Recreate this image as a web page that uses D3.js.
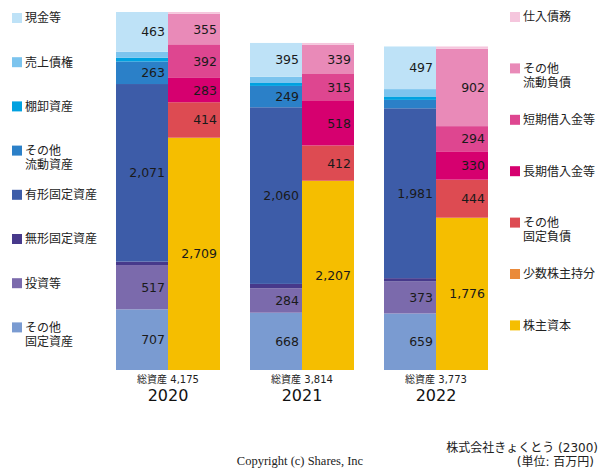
<!DOCTYPE html>
<html><head><meta charset="utf-8">
<script src="https://cdn.jsdelivr.net/npm/d3@7"></script>
<style>
body{margin:0;background:#fff;}
text{font-family:"DejaVu Sans","Noto Sans CJK JP",sans-serif;}
</style></head>
<body><svg id="c" width="600" height="470"></svg>
<script>
const years = ["2020","2021","2022"];
const totals = [4175, 3814, 3773];
// Assets (bottom to top)
const assetKeys = ["その他固定資産","投資等","無形固定資産","有形固定資産","その他流動資産","棚卸資産","売上債権","現金等"];
const otherFixedAssets = [707, 668, 659];
const investments = [517, 284, 373];
const intangibles = [40, 52, 39];
const tangibles = [2071, 2060, 1981];
const otherCurrentAssets = [263, 249, 98];
const inventories = [45, 34, 40];
const receivables = [69, 72, 86];
const cash = [463, 395, 497];
// Liabilities & equity (bottom to top)
const liabKeys = ["株主資本","少数株主持分","その他固定負債","長期借入金等","短期借入金等","その他流動負債","仕入債務"];
const equity = [2709, 2207, 1776];
const minority = [0, 0, 0];
const otherFixedLiab = [414, 412, 444];
const longDebt = [283, 518, 330];
const shortDebt = [392, 315, 294];
const otherCurrentLiab = [355, 339, 902];
const payables = [22, 23, 27];

const assetColors = ["#7a9bd1","#7b6aac","#47398b","#3d5ca8","#2b80c8","#00a1e0","#7cc4ee","#bee2f7"];
const liabColors = ["#f5be00","#ea8a3a","#dd4b52","#d6006f","#de4690","#e98ab8","#f5c6dd"];

const assetSeries = [otherFixedAssets,investments,intangibles,tangibles,otherCurrentAssets,inventories,receivables,cash];
const liabSeries = [equity,minority,otherFixedLiab,longDebt,shortDebt,otherCurrentLiab,payables];

const assetRows = years.map((y,i)=>{const o={year:y}; assetKeys.forEach((k,j)=>o[k]=assetSeries[j][i]); return o;});
const liabRows = years.map((y,i)=>{const o={year:y}; liabKeys.forEach((k,j)=>o[k]=liabSeries[j][i]); return o;});

const svg = d3.select("#c");
const groupX = d3.scalePoint().domain(years).range([168, 436]);
const halfW = 52;
const y = d3.scaleLinear().domain([0, d3.max(totals)]).range([370, 12]);

const fmt = d3.format(",");
function drawSide(rows, keys, colors, offset){
  const st = d3.stack().keys(keys)(rows);
  st.forEach((s,si)=>{
    const g = svg.append("g");
    g.selectAll("rect").data(s).join("rect")
      .attr("x", d=>groupX(d.data.year)+offset)
      .attr("width", halfW)
      .attr("y", d=>y(d[1]))
      .attr("height", d=>Math.max(0, y(d[0])-y(d[1])))
      .attr("fill", colors[si]);
    g.selectAll("text").data(s.filter(d=>d[1]-d[0]>=150)).join("text")
      .attr("x", d=>groupX(d.data.year)+offset+halfW-3)
      .attr("y", d=>(y(d[0])+y(d[1]))/2)
      .attr("dy","0.36em")
      .attr("text-anchor","end")
      .attr("font-size",12.5)
      .attr("fill","#1a1a1a")
      .text(d=>fmt(d[1]-d[0]));
  });
}
drawSide(assetRows, assetKeys, assetColors, -halfW);
drawSide(liabRows, liabKeys, liabColors, 0);

// x labels
years.forEach((yr,i)=>{
  svg.append("text").attr("x",groupX(yr)).attr("y",383).attr("text-anchor","middle")
    .attr("font-size",10).attr("fill","#222").text("総資産 "+fmt(totals[i]));
  svg.append("text").attr("x",groupX(yr)).attr("y",401).attr("text-anchor","middle")
    .attr("font-size",16).attr("fill","#111").text(yr);
});

// legends
const leftLegend = [["現金等"],["売上債権"],["棚卸資産"],["その他","流動資産"],["有形固定資産"],["無形固定資産"],["投資等"],["その他","固定資産"]];
const leftLegColors = assetColors.slice().reverse();
leftLegend.forEach((lines,i)=>{
  const cy = 18 + i*44.2;
  svg.append("rect").attr("x",12).attr("y",cy-5).attr("width",10).attr("height",10).attr("fill",leftLegColors[i]);
  lines.forEach((t,j)=>svg.append("text").attr("x",25).attr("y",cy+j*14).attr("dy","0.36em")
    .attr("font-size",12).attr("fill","#222").text(t));
});
const rightLegend = [["仕入債務"],["その他","流動負債"],["短期借入金等"],["長期借入金等"],["その他","固定負債"],["少数株主持分"],["株主資本"]];
const rightLegColors = liabColors.slice().reverse();
rightLegend.forEach((lines,i)=>{
  const cy = 17 + i*51.4;
  svg.append("rect").attr("x",510).attr("y",cy-5).attr("width",10).attr("height",10).attr("fill",rightLegColors[i]);
  lines.forEach((t,j)=>svg.append("text").attr("x",523).attr("y",cy+j*14).attr("dy","0.36em")
    .attr("font-size",12).attr("fill","#222").text(t));
});

// footer
svg.append("text").attr("x",598).attr("y",452).attr("text-anchor","end").attr("font-size",12).attr("fill","#222").text("株式会社きょくとう (2300)");
svg.append("text").attr("x",594).attr("y",466).attr("text-anchor","end").attr("font-size",12).attr("fill","#222").text("(単位: 百万円)");
svg.append("text").attr("x",300).attr("y",465).attr("text-anchor","middle").attr("font-size",12.5)
  .style("font-family","'Liberation Serif','DejaVu Serif',serif").attr("fill","#222").text("Copyright (c) Shares, Inc");
</script></body></html>
